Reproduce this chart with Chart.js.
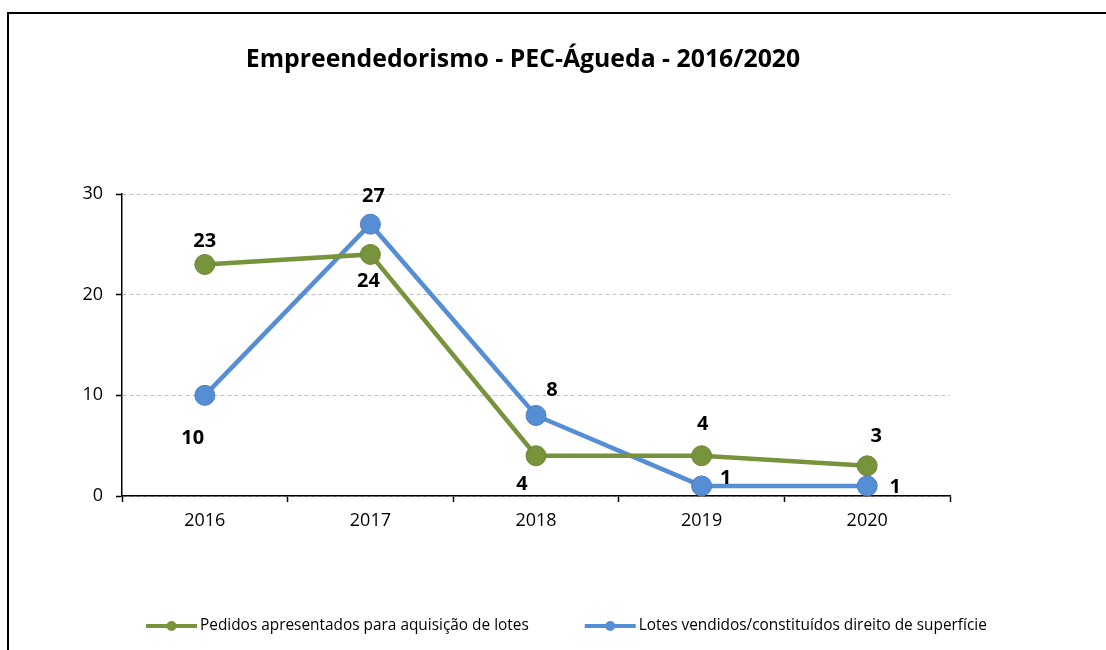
<!DOCTYPE html>
<html>
<head>
<meta charset="utf-8">
<script src="https://cdn.jsdelivr.net/npm/chart.js@4"></script>
<style>
  html, body { margin: 0; padding: 0; background: #fff; overflow: hidden; }
  #wrap { position: relative; width: 1106px; height: 650px; }
  #frame { position: absolute; left: 7px; top: 12px; width: 1200px; height: 800px; border: 2px solid #000; box-sizing: border-box; }
  canvas { position: absolute; left: 0; top: 0; }
</style>
</head>
<body>
<div id="wrap">
  <div id="frame"></div>
  <canvas id="chart" width="1106" height="650"></canvas>
</div>
<script>
// data
const years = ['2016', '2017', '2018', '2019', '2020'];
const pedidos = [23, 24, 4, 4, 3];
const lotes = [10, 27, 8, 1, 1];
const seriesNames = ['Pedidos apresentados para aquisição de lotes', 'Lotes vendidos/constituídos direito de superfície'];
const chartTitle = 'Empreendedorismo - PEC-Águeda - 2016/2020';
const yTicks = [0, 10, 20, 30];

// where each value label sits relative to its point (px)
const labelOffsets = [
    [[0, -23], [-2, 27], [-14, 29], [1, -31], [9, -30]],
    [[-12, 43], [3, -28], [16, -25], [24, -8], [28, 1]]
];

const green = '#77933C';
const blue = '#558ED5';
const FONT = '"Open Sans", "Liberation Sans", sans-serif';

// title is centred on the plot+axis block, not the whole canvas
const titlePlugin = {
    id: 'titlePlugin',
    afterDraw(chart) {
        const ctx = chart.ctx;
        ctx.save();
        ctx.font = 'bold 24.8px ' + FONT;
        ctx.fillStyle = '#000';
        ctx.textAlign = 'center';
        ctx.textBaseline = 'middle';
        ctx.fillText(chartTitle, 523, 60);
        ctx.restore();
    }
};

// value labels next to the points
const valueLabels = {
    id: 'valueLabels',
    afterDatasetsDraw(chart) {
        const ctx = chart.ctx;
        ctx.save();
        ctx.font = 'bold 20px ' + FONT;
        ctx.fillStyle = '#000';
        ctx.textAlign = 'center';
        ctx.textBaseline = 'middle';
        chart.data.datasets.forEach((ds, i) => {
            const meta = chart.getDatasetMeta(i);
            meta.data.forEach((pt, j) => {
                const off = labelOffsets[i][j];
                ctx.fillText(String(ds.data[j]), pt.x + off[0], pt.y + off[1]);
            });
        });
        ctx.restore();
    }
};

// Excel-like legend: line with marker, at the bottom
const lineLegend = {
    id: 'lineLegend',
    afterDraw(chart) {
        const ctx = chart.ctx;
        let x = 146;
        const y = 626;
        ctx.save();
        ctx.font = '15.4px ' + FONT;
        ctx.textBaseline = 'middle';
        ctx.textAlign = 'left';
        chart.data.datasets.forEach(ds => {
            ctx.strokeStyle = ds.borderColor;
            ctx.lineWidth = 4;
            ctx.beginPath();
            ctx.moveTo(x, y);
            ctx.lineTo(x + 51, y);
            ctx.stroke();
            ctx.fillStyle = ds.borderColor;
            ctx.beginPath();
            ctx.arc(x + 25.5, y, 5, 0, Math.PI * 2);
            ctx.fill();
            ctx.fillStyle = '#000';
            ctx.fillText(ds.label, x + 54, y);
            x += 54 + ctx.measureText(ds.label).width + 56;
        });
        ctx.restore();
    }
};

new Chart(document.getElementById('chart'), {
    type: 'line',
    data: {
        labels: years,
        datasets: [
            {
                label: seriesNames[0],
                data: pedidos,
                borderColor: green,
                backgroundColor: green,
                pointBorderColor: '#6a8534',
                borderWidth: 4.5,
                pointRadius: 10,
                pointBorderWidth: 1,
                tension: 0
            },
            {
                label: seriesNames[1],
                data: lotes,
                borderColor: blue,
                backgroundColor: blue,
                pointBorderColor: '#4a7ebb',
                borderWidth: 4.5,
                pointRadius: 10,
                pointBorderWidth: 1,
                tension: 0
            }
        ]
    },
    options: {
        responsive: false,
        animation: false,
        devicePixelRatio: 1,
        layout: { padding: { left: 50, right: 156, top: 194, bottom: 114 } },
        plugins: {
            legend: { display: false },
            tooltip: { enabled: false },
            title: { display: false }
        },
        scales: {
            x: {
                offset: true,
                afterFit(scale) { scale.height = 40; },
                grid: { offset: true, drawOnChartArea: false, drawTicks: true, tickLength: 6, tickColor: '#000', tickWidth: 1.5 },
                border: { display: true, color: '#000', width: 1.5 },
                ticks: { color: '#000', padding: 8, font: { family: FONT, size: 18 } }
            },
            y: {
                min: 0,
                max: 30,
                afterFit(scale) { scale.width = 72; },
                afterBuildTicks(scale) { scale.ticks = yTicks.map(v => ({ value: v })); },
                grid: { color: '#c0c0c0', lineWidth: 1, tickLength: 6, tickColor: '#000', tickWidth: 1.5 },
                border: { display: true, color: '#000', width: 1.5, dash: [4, 3] },
                ticks: { color: '#000', padding: 13, font: { family: FONT, size: 18 } }
            }
        }
    },
    plugins: [valueLabels, lineLegend, titlePlugin]
});
</script>
</body>
</html>
